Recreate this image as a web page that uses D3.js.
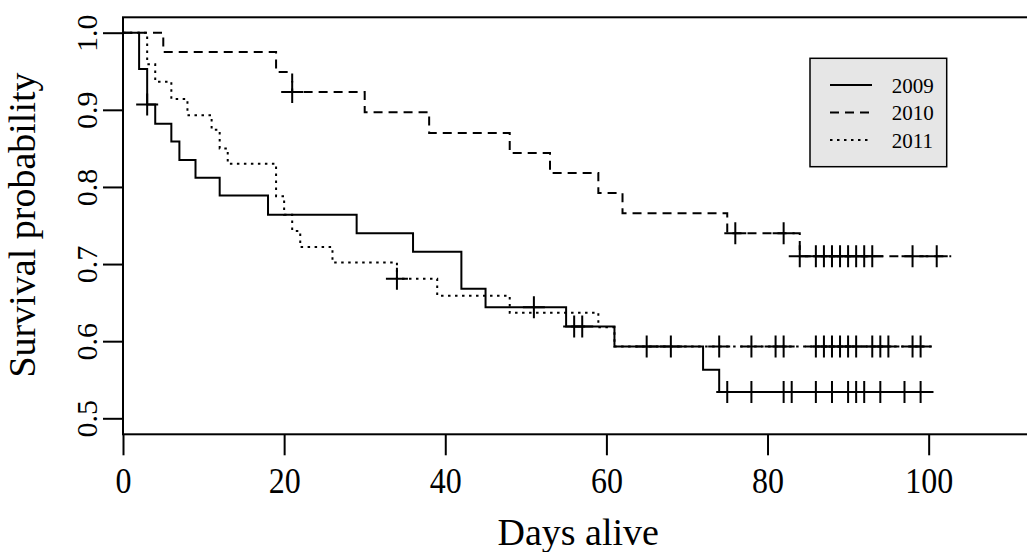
<!DOCTYPE html>
<html>
<head>
<meta charset="utf-8">
<script src="https://cdn.jsdelivr.net/npm/d3@7"></script>
<style>
  body { margin: 0; background: #fff; }
  text { font-family: "Liberation Serif", "DejaVu Serif", serif; fill: #000; }
</style>
</head>
<body>
<div id="chart"></div>
<script>
/* Kaplan-Meier survival curves by year */

// step points [day, survival after the drop]
const steps2009 = [[0, 1.0], [2, 0.953], [3, 0.907], [4, 0.882], [6, 0.859], [7, 0.835], [9, 0.812],
  [12, 0.789], [18, 0.764], [29, 0.740], [36, 0.716], [42, 0.668], [45, 0.644], [55, 0.619],
  [61, 0.593], [72, 0.563], [74, 0.534]];
const steps2010 = [[0, 1.0], [5, 0.975], [19, 0.949], [21, 0.923], [30, 0.897], [38, 0.870],
  [48, 0.844], [53, 0.818], [59, 0.792], [62, 0.766], [75, 0.740], [84, 0.710]];
const steps2011 = [[0, 1.0], [3, 0.959], [4, 0.9365], [6, 0.914], [8, 0.893], [11, 0.874],
  [12, 0.850], [13, 0.830], [19, 0.788], [20, 0.764], [21, 0.743], [22, 0.722], [26, 0.702],
  [34, 0.681], [39, 0.659], [48, 0.637], [59, 0.618], [61, 0.593]];

// last follow-up day of each curve
const lastDay = {"2009": 100.6, "2010": 102.8, "2011": 100.6};

// censored days
const censor2009 = [3, 51, 56, 57, 65, 68, 75, 78, 82, 83, 86, 88, 90, 91, 92, 94, 97, 99];
const censor2010 = [21, 76, 82, 84, 86, 87, 88, 89, 90, 91, 92, 93, 98, 101];
const censor2011 = [34, 74, 78, 81, 82, 86, 87, 88, 89, 90, 91, 93, 94, 95, 98, 99];

const years = ["2009", "2010", "2011"];
const xTicks = [0, 20, 40, 60, 80, 100];
const yTicks = [0.5, 0.6, 0.7, 0.8, 0.9, 1.0];

const series = [
  {name: "2009", steps: steps2009, censor: censor2009, dash: null},
  {name: "2010", steps: steps2010, censor: censor2010, dash: "9,6"},
  {name: "2011", steps: steps2011, censor: censor2011, dash: "2.5,4.5"}
];

const W = 1027, H = 552;
const box = {left: 123, right: 1033.4, top: 17.3, bottom: 434.3};

const svg = d3.select("#chart").append("svg")
  .attr("width", W)
  .attr("height", H);

const x = d3.scaleLinear().domain([0, 113]).range([box.left, box.right]);
const y = d3.scaleLinear().domain([0.5, 1.0]).range([418.3, 32.7]);

// plot box
svg.append("rect")
  .attr("x", box.left).attr("y", box.top)
  .attr("width", box.right - box.left).attr("height", box.bottom - box.top)
  .attr("fill", "none").attr("stroke", "#000").attr("stroke-width", 2);

// x axis
const xAxis = svg.append("g")
  .attr("transform", "translate(0," + box.bottom + ")")
  .call(d3.axisBottom(x).tickValues(xTicks).tickSize(21).tickPadding(0).tickFormat(d3.format("d")));
xAxis.select(".domain").remove();
xAxis.selectAll("line").attr("stroke-width", 2);
xAxis.selectAll("text")
  .attr("y", 0).attr("dy", null)
  .attr("transform", "translate(0,59) scale(1,1.1)")
  .style("font-size", "32px");
xAxis.attr("font-family", null).attr("font-size", null);

// y axis
const yAxis = svg.append("g")
  .attr("transform", "translate(" + box.left + ",0)")
  .call(d3.axisLeft(y).tickValues(yTicks).tickSize(20).tickFormat(d3.format(".1f")));
yAxis.select(".domain").remove();
yAxis.selectAll("line").attr("stroke-width", 2);
yAxis.selectAll("text").remove();
yAxis.attr("font-family", null).attr("font-size", null);
yAxis.selectAll(".tick").append("text")
  .attr("transform", "translate(-26,0) rotate(-90)")
  .attr("text-anchor", "middle")
  .style("font-size", "30px")
  .text(d => d3.format(".1f")(d));

// axis titles
svg.append("text")
  .attr("x", (box.left + box.right) / 2).attr("y", 545)
  .attr("text-anchor", "middle")
  .style("font-size", "38px")
  .text("Days alive");

svg.append("text")
  .attr("transform", "translate(35,225) rotate(-90)")
  .attr("text-anchor", "middle")
  .style("font-size", "38px")
  .text("Survival probability");

// step curves
const line = d3.line()
  .x(d => x(d[0]))
  .y(d => y(d[1]))
  .curve(d3.curveStepAfter);

// value of a curve at a given day
function survAt(steps, day) {
  let v = steps[0][1];
  steps.forEach(s => { if (s[0] <= day) v = s[1]; });
  return v;
}

series.forEach(s => {
  const pts = s.steps.concat([[lastDay[s.name], s.steps[s.steps.length - 1][1]]]);
  svg.append("path")
    .attr("d", line(pts))
    .attr("fill", "none")
    .attr("stroke", "#000")
    .attr("stroke-width", 2)
    .attr("stroke-dasharray", s.dash);

  const marks = svg.append("g");
  s.censor.forEach(c => {
    const cx = x(c), cy = y(survAt(s.steps, c));
    marks.append("path")
      .attr("d", "M" + (cx - 11) + "," + cy + "H" + (cx + 11) + "M" + cx + "," + (cy - 11) + "V" + (cy + 11))
      .attr("stroke", "#000")
      .attr("stroke-width", 2);
  });
});

// legend
const legend = svg.append("g");
legend.append("rect")
  .attr("x", 810).attr("y", 58.3)
  .attr("width", 136.7).attr("height", 108.4)
  .attr("fill", "#e6e6e6").attr("stroke", "#000").attr("stroke-width", 1.5);

series.forEach((s, i) => {
  const ly = 85 + i * 27.5;
  legend.append("line")
    .attr("x1", 830).attr("x2", 872)
    .attr("y1", ly).attr("y2", ly)
    .attr("stroke", "#000").attr("stroke-width", 2)
    .attr("stroke-dasharray", s.dash);
  legend.append("text")
    .attr("x", 891.7).attr("y", ly + 7.5)
    .style("font-size", "21px")
    .text(years[i]);
});
</script>
</body>
</html>
